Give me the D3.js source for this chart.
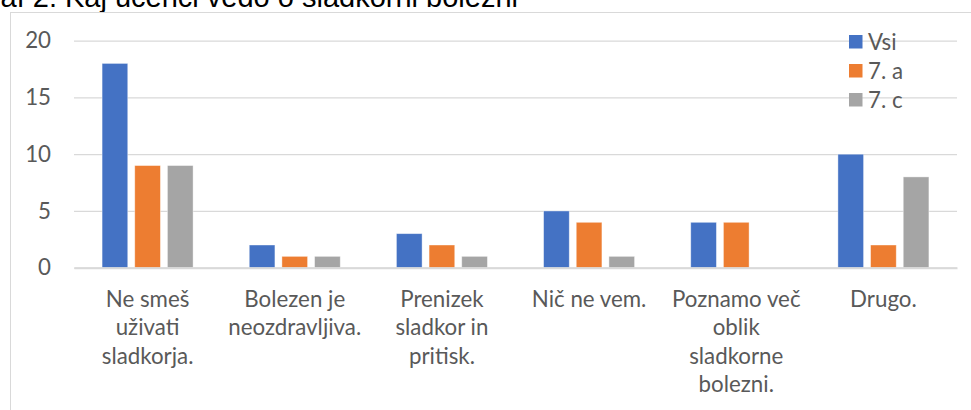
<!DOCTYPE html>
<html>
<head>
<meta charset="utf-8">
<script src="https://cdn.jsdelivr.net/npm/d3@7"></script>
<style>
  body { margin: 0; background: #fff; }
  svg { display: block; }
</style>
</head>
<body>
<script>
// data
var categories = [
    "Ne smeš\nuživati\nsladkorja.",
    "Bolezen je\nneozdravljiva.",
    "Prenizek\nsladkor in\npritisk.",
    "Nič ne vem.",
    "Poznamo več\noblik\nsladkorne\nbolezni.",
    "Drugo."
];
var seriesNames = ["Vsi", "7. a", "7. c"];
var vsi = [18, 2, 3, 5, 4, 10];
var razredA = [9, 1, 2, 4, 4, 2];
var razredC = [9, 1, 1, 1, 0, 8];
var yTicks = [0, 5, 10, 15, 20];
var colors = ["#4472C4", "#ED7D31", "#A5A5A5"];
var title = "Graf 2: Kaj učenci vedo o sladkorni bolezni";

var allSeries = [vsi, razredA, razredC];
var W = 971, H = 410;
var fontFam = "Lato, 'Open Sans', sans-serif";

var svg = d3.select("body").append("svg")
    .attr("width", W).attr("height", H);

// fit font size so text width looks like the Calibri in the picture
var probe = svg.append("text").style("font-family", fontFam)
    .style("font-size", "100px").text("neozdravljiva.");
var fs = 100 * 133 / probe.node().getComputedTextLength();
probe.remove();

// title, cut off at the top / left like in the screenshot
svg.append("text")
    .attr("x", 518).attr("y", 7)
    .attr("text-anchor", "end")
    .style("font-family", "'Liberation Sans', Arial, sans-serif")
    .style("font-size", "29px")
    .style("fill", "#000")
    .text(title);

// chart frame
svg.append("rect")
    .attr("x", 10.5).attr("y", 12.5)
    .attr("width", 1000).attr("height", 500)
    .attr("fill", "none").attr("stroke", "#D9D9D9");

var plotLeft = 74, plotRight = 957, plotTop = 40.7, plotBottom = 267.7;

var x0 = d3.scaleBand().domain(d3.range(categories.length))
    .range([plotLeft, plotRight]).paddingInner(0).paddingOuter(0);
var x1 = d3.scaleBand().domain(d3.range(seriesNames.length))
    .range([0, 91]).paddingInner(0.214).paddingOuter(0);
var y = d3.scaleLinear().domain([0, 20]).range([plotBottom, plotTop]);

// gridlines + y labels
var yAxis = svg.append("g")
    .attr("transform", "translate(" + plotLeft + ",0)")
    .call(d3.axisLeft(y).tickValues(yTicks)
        .tickSizeInner(-(plotRight - plotLeft)).tickSizeOuter(0).tickPadding(23));
yAxis.select(".domain").remove();
yAxis.selectAll("line").attr("stroke", "#D9D9D9").attr("stroke-width", 1.3);
yAxis.selectAll("text")
    .style("font-family", fontFam).style("font-size", fs + "px")
    .style("fill", "#595959");

// bars
var groups = svg.selectAll("g.cat")
    .data(categories)
    .enter().append("g")
    .attr("class", "cat")
    .attr("transform", function(d, i) {
        return "translate(" + (x0(i) + (x0.bandwidth() - 91) / 2) + ",0)";
    });

groups.selectAll("rect")
    .data(function(d, i) {
        return allSeries.map(function(s, k) { return {k: k, v: s[i]}; });
    })
    .enter().append("rect")
    .attr("x", function(d) { return x1(d.k); })
    .attr("y", function(d) { return y(d.v); })
    .attr("width", x1.bandwidth())
    .attr("height", function(d) { return y(0) - y(d.v); })
    .attr("fill", function(d) { return colors[d.k]; })
    .attr("stroke", "#fff").attr("stroke-opacity", 0.5).attr("stroke-width", 0.8);

// x axis line + wrapped category labels
var xAxis = svg.append("g")
    .attr("transform", "translate(0," + plotBottom + ")")
    .call(d3.axisBottom(x0).tickSize(0).tickSizeOuter(0)
        .tickFormat(function(i) { return categories[i]; }));
xAxis.select(".domain").attr("stroke", "#D9D9D9").attr("stroke-width", 2);
xAxis.selectAll("text").each(function(i) {
    var t = d3.select(this).text(null)
        .attr("y", 0).attr("dy", null)
        .style("font-family", fontFam).style("font-size", fs + "px")
        .style("fill", "#595959");
    categories[i].split("\n").forEach(function(line, j) {
        t.append("tspan").attr("x", 0).attr("y", 39 + j * 28.5).text(line);
    });
});

// legend
var legend = svg.selectAll("g.leg")
    .data(seriesNames)
    .enter().append("g")
    .attr("class", "leg")
    .attr("transform", function(d, i) { return "translate(849," + (42 + i * 29) + ")"; });
legend.append("rect")
    .attr("x", 0).attr("y", -7).attr("width", 13.5).attr("height", 13.5)
    .attr("fill", function(d, i) { return colors[i]; });
legend.append("text")
    .attr("x", 19).attr("y", 0).attr("dy", "0.35em")
    .style("font-family", fontFam).style("font-size", fs + "px")
    .style("fill", "#595959")
    .text(function(d) { return d; });
</script>
</body>
</html>
